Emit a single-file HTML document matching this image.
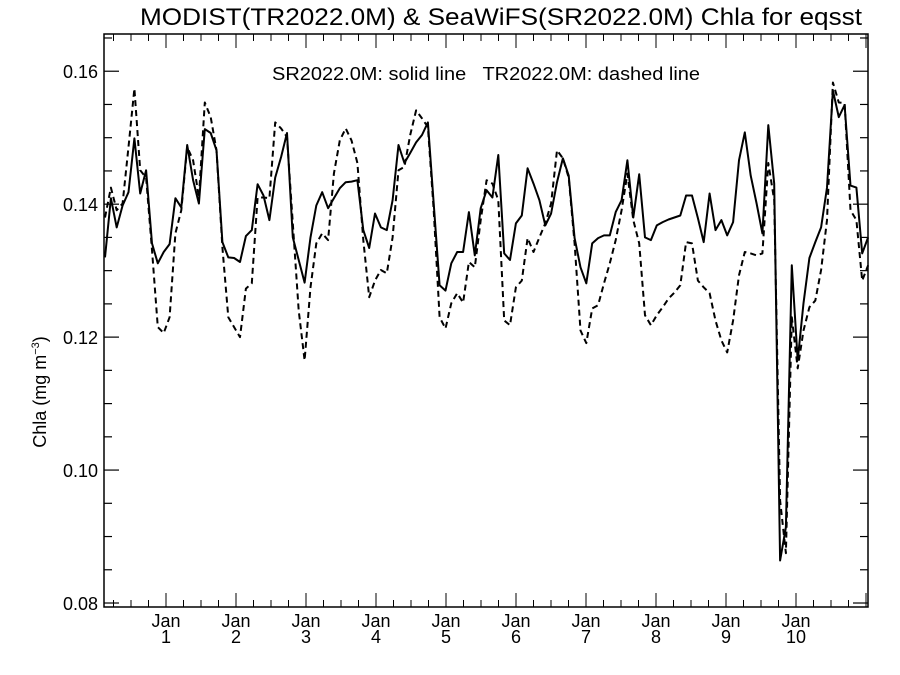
<!DOCTYPE html>
<html><head><meta charset="utf-8"><style>
body{margin:0;background:#fff;}
svg{display:block;font-family:"Liberation Sans",sans-serif;}
</style></head><body>
<svg id="chart" width="900" height="675" viewBox="0 0 900 675">
<rect x="0" y="0" width="900" height="675" fill="#fff"/>
<text x="140" y="25" font-size="24" textLength="722" lengthAdjust="spacingAndGlyphs">MODIST(TR2022.0M) &amp; SeaWiFS(SR2022.0M)  Chla for eqsst</text>
<text x="272" y="80" font-size="18" textLength="428" lengthAdjust="spacingAndGlyphs" xml:space="preserve">SR2022.0M: solid line   TR2022.0M: dashed line</text>
<text transform="translate(46,392) rotate(-90)" text-anchor="middle" font-size="18">Chla (mg m<tspan font-size="11" dy="-7">−3</tspan><tspan dy="7">)</tspan></text>
<g id="axes"></g>
<g id="series"></g>
</svg>
<script>
const yTickValues=[0.08,0.10,0.12,0.14,0.16];
const yTickLabels=["0.08","0.10","0.12","0.14","0.16"];
const xYearLabels=["1","2","3","4","5","6","7","8","9","10"];
const solidValues=[0.1320,0.1409,0.1365,0.1398,0.1418,0.1499,0.1416,0.1451,0.1341,0.1311,0.1328,0.1340,0.1409,0.1395,0.1489,0.1436,0.1401,0.1513,0.1507,0.1481,0.1343,0.1320,0.1319,0.1313,0.1352,0.1361,0.1430,0.1413,0.1376,0.1440,0.1471,0.1507,0.1350,0.1316,0.1282,0.1350,0.1398,0.1418,0.1394,0.1409,0.1424,0.1433,0.1434,0.1436,0.1361,0.1334,0.1386,0.1365,0.1361,0.1406,0.1489,0.1462,0.1477,0.1493,0.1504,0.1523,0.1401,0.1278,0.1270,0.1311,0.1328,0.1328,0.1388,0.1323,0.1394,0.1421,0.1410,0.1474,0.1326,0.1316,0.1371,0.1383,0.1454,0.1431,0.1406,0.1368,0.1386,0.1433,0.1469,0.1443,0.1349,0.1305,0.1281,0.1341,0.1349,0.1353,0.1353,0.1388,0.1406,0.1466,0.1380,0.1445,0.1350,0.1346,0.1368,0.1373,0.1377,0.1380,0.1383,0.1413,0.1413,0.1379,0.1343,0.1416,0.1361,0.1376,0.1353,0.1373,0.1466,0.1508,0.1443,0.1401,0.1356,0.1519,0.1431,0.0864,0.0914,0.1308,0.1165,0.1251,0.1319,0.1343,0.1365,0.1425,0.1571,0.1531,0.1549,0.1428,0.1425,0.1326,0.1350];
const dashedValues=[0.1380,0.1425,0.1391,0.1401,0.1486,0.1574,0.1451,0.1440,0.1331,0.1215,0.1206,0.1230,0.1356,0.1391,0.1486,0.1466,0.1410,0.1553,0.1531,0.1481,0.1335,0.1230,0.1215,0.1200,0.1273,0.1281,0.1410,0.1410,0.1409,0.1523,0.1514,0.1501,0.1371,0.1240,0.1165,0.1275,0.1341,0.1356,0.1346,0.1446,0.1496,0.1514,0.1496,0.1462,0.1346,0.1260,0.1285,0.1301,0.1296,0.1350,0.1451,0.1456,0.1504,0.1541,0.1529,0.1516,0.1391,0.1230,0.1213,0.1251,0.1266,0.1252,0.1313,0.1305,0.1376,0.1436,0.1431,0.1406,0.1225,0.1218,0.1275,0.1285,0.1349,0.1328,0.1350,0.1371,0.1401,0.1481,0.1469,0.1440,0.1341,0.1210,0.1191,0.1243,0.1248,0.1281,0.1311,0.1346,0.1391,0.1446,0.1376,0.1341,0.1233,0.1218,0.1233,0.1245,0.1258,0.1267,0.1278,0.1343,0.1341,0.1285,0.1275,0.1266,0.1225,0.1195,0.1177,0.1225,0.1293,0.1328,0.1326,0.1323,0.1326,0.1462,0.1406,0.0954,0.0875,0.1230,0.1153,0.1210,0.1245,0.1255,0.1301,0.1376,0.1583,0.1553,0.1552,0.1391,0.1376,0.1285,0.1308];

const NS="http://www.w3.org/2000/svg";
const L=104,R=868,T=34,B=607;
const yTop=0.1656,yBot=0.0794;
function yScale(v){return B-(v-yBot)/(yTop-yBot)*(B-T);}
function xYear(t){return 166+(t-1)*70;}
const t0=0.1286, monthW=5.87/70;
function xIdx(i){return xYear(t0+i*monthW);}
function mk(tag,attrs,parent){const e=document.createElementNS(NS,tag);for(const k in attrs)e.setAttribute(k,attrs[k]);parent.appendChild(e);return e;}
const ax=document.getElementById('axes');
const frame=mk('rect',{x:L,y:T,width:R-L,height:B-T,fill:'none',stroke:'#000','stroke-width':1.5},ax);


for(let k=0;k<=17;k++){
  const v=0.08+k*0.005;if(v>yTop)break;
  const y=yScale(v);const major=k%4===0;const len=major?15:8;
  const tl=mk('line',{x1:L,x2:L+len,y1:y,y2:y,stroke:'#000','stroke-width':1.2},ax);
  
  
  const tr=mk('line',{x1:R,x2:R-len,y1:y,y2:y,stroke:'#000','stroke-width':1.2},ax);
  
  
}
yTickValues.forEach((v,i)=>{
  const t=mk('text',{x:L-6,y:yScale(v)+7,'text-anchor':'end','font-size':18},ax);t.textContent=yTickLabels[i];
  
  
});
for(let q=-3;q<=43;q++){
  const t=1+q/4;const x=xYear(t);if(x<L+2||x>R-1)continue;
  const major=q%4===0;const len=major?14:7;
  const tb=mk('line',{x1:x,x2:x,y1:B,y2:B-len,stroke:'#000','stroke-width':1},ax);
  
  
  const tt=mk('line',{x1:x,x2:x,y1:T,y2:T+len,stroke:'#000','stroke-width':1},ax);
  
  
}
xYearLabels.forEach((lab,i)=>{
  const x=xYear(i+1);
  const a=mk('text',{x:x,y:627,'text-anchor':'middle','font-size':18},ax);a.textContent='Jan';
  
  
  const b=mk('text',{x:x,y:643,'text-anchor':'middle','font-size':18},ax);b.textContent=lab;
  
  
});
const sg=document.getElementById('series');
function line(vals,dash,name){
  const d=vals.map((v,i)=>(i?'L':'M')+xIdx(i).toFixed(1)+','+yScale(v).toFixed(1)).join('');
  const p=mk('path',{d:d,fill:'none',stroke:'#000','stroke-width':2,'stroke-linejoin':'round'},sg);
  if(dash)p.setAttribute('stroke-dasharray','6,4');
  
  
}
line(dashedValues,true,'tr2022-dashed-line');
line(solidValues,false,'sr2022-solid-line');
</script>
</body></html>
